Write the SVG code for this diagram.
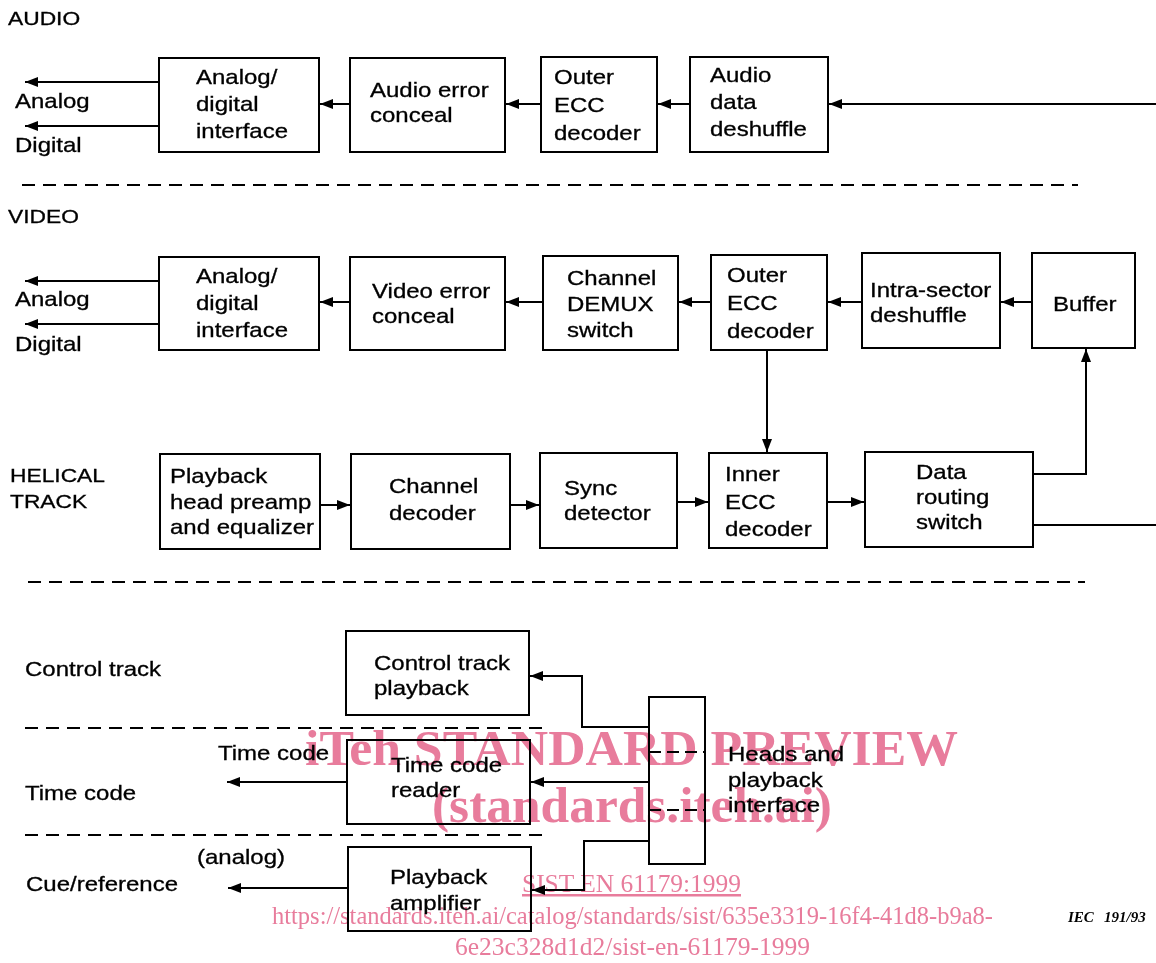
<svg xmlns="http://www.w3.org/2000/svg" width="1156" height="963" viewBox="0 0 1156 963">
<defs>
<marker id="ah" markerUnits="userSpaceOnUse" markerWidth="14" markerHeight="11" refX="13" refY="5" orient="auto">
<path d="M0,0 L13,5 L0,10 z" fill="#000"/>
</marker>
</defs>
<style>
.box{fill:#fff;stroke:#000;stroke-width:2}
.t{font-family:"Liberation Sans",Arial,Helvetica,sans-serif;font-size:20px;fill:#000;stroke:#000;stroke-width:0.3}
.h{font-size:19px}
.ln{fill:none;stroke:#000;stroke-width:2}
.arr{marker-end:url(#ah)}
.dash{fill:none;stroke:#000;stroke-width:2;stroke-dasharray:13 8}
.wm{font-family:"Liberation Serif","Times New Roman",serif;fill:#e87c9c;mix-blend-mode:multiply}
.wb{font-weight:bold;font-size:51px}
.ws{font-size:25px}
</style>
<rect width="1156" height="963" fill="#fff"/>

<g id="labels">
<text class="t h" transform="translate(8,25) scale(1.2,1)">AUDIO</text>
<text class="t" transform="translate(15,108) scale(1.2,1)">Analog</text>
<text class="t" transform="translate(15,152) scale(1.2,1)">Digital</text>
<text class="t h" transform="translate(8,223) scale(1.2,1)">VIDEO</text>
<text class="t" transform="translate(15,306) scale(1.2,1)">Analog</text>
<text class="t" transform="translate(15,351) scale(1.2,1)">Digital</text>
<text class="t h" transform="translate(10,482) scale(1.2,1)"><tspan x="0" y="0">HELICAL</tspan><tspan x="0" y="26">TRACK</tspan></text>
<text class="t" transform="translate(25,676) scale(1.2,1)">Control track</text>
<text class="t" transform="translate(218,760) scale(1.2,1)">Time code</text>
<text class="t" transform="translate(25,800) scale(1.2,1)">Time code</text>
<text class="t" transform="translate(197,864) scale(1.2,1)">(analog)</text>
<text class="t" transform="translate(26,891) scale(1.2,1)">Cue/reference</text>
<text font-family="Liberation Serif,serif" font-style="italic" font-weight="bold" font-size="15" x="1068" y="922">IEC</text>
<text font-family="Liberation Serif,serif" font-style="italic" font-weight="bold" font-size="15" x="1104" y="922">191/93</text>
</g>

<g id="separators">
<path class="dash" d="M22,185 H1078"/>
<path class="dash" d="M28,582 H1085"/>
<path class="dash" d="M25,728 H550"/>
<path class="dash" d="M25,835 H550"/>
</g>

<g id="connectors">
<path class="ln arr" d="M1156,104 H829"/>
<path class="ln arr" d="M690,104 H658"/>
<path class="ln arr" d="M541,104 H506"/>
<path class="ln arr" d="M350,104 H320"/>
<path class="ln arr" d="M159,82 H25"/>
<path class="ln arr" d="M159,126 H25"/>
<path class="ln arr" d="M1032,302 H1001"/>
<path class="ln arr" d="M862,302 H828"/>
<path class="ln arr" d="M711,302 H679"/>
<path class="ln arr" d="M543,302 H506"/>
<path class="ln arr" d="M350,302 H320"/>
<path class="ln arr" d="M159,281 H25"/>
<path class="ln arr" d="M159,324 H25"/>
<path class="ln arr" d="M767,350 V452"/>
<path class="ln arr" d="M320,505 H350"/>
<path class="ln arr" d="M510,505 H539"/>
<path class="ln arr" d="M677,502 H708"/>
<path class="ln arr" d="M827,502 H864"/>
<path class="ln arr" d="M1033,474 H1086 V349"/>
<path class="ln" d="M1033,525 H1156"/>
<path class="ln arr" d="M649,727 H582 V676 H530"/>
<path class="ln arr" d="M649,782 H531"/>
<path class="ln arr" d="M649,841 H584 V890 H532"/>
<path class="ln arr" d="M347,782 H227"/>
<path class="ln arr" d="M348,888 H228"/>
</g>

<g id="audio-ad">
<rect class="box" x="159" y="58" width="160" height="94"/>
<text class="t" transform="translate(196,84) scale(1.2,1)"><tspan x="0" y="0">Analog/</tspan><tspan x="0" y="27">digital</tspan><tspan x="0" y="54">interface</tspan></text>
</g>
<g id="audio-conceal">
<rect class="box" x="350" y="58" width="155" height="94"/>
<text class="t" transform="translate(370,97) scale(1.2,1)"><tspan x="0" y="0">Audio error</tspan><tspan x="0" y="25">conceal</tspan></text>
</g>
<g id="audio-outer-ecc">
<rect class="box" x="541" y="57" width="116" height="95"/>
<text class="t" transform="translate(554,84) scale(1.2,1)"><tspan x="0" y="0">Outer</tspan><tspan x="0" y="28">ECC</tspan><tspan x="0" y="56">decoder</tspan></text>
</g>
<g id="audio-deshuffle">
<rect class="box" x="690" y="57" width="138" height="95"/>
<text class="t" transform="translate(710,82) scale(1.2,1)"><tspan x="0" y="0">Audio</tspan><tspan x="0" y="27">data</tspan><tspan x="0" y="54">deshuffle</tspan></text>
</g>

<g id="video-ad">
<rect class="box" x="159" y="257" width="160" height="93"/>
<text class="t" transform="translate(196,283) scale(1.2,1)"><tspan x="0" y="0">Analog/</tspan><tspan x="0" y="27">digital</tspan><tspan x="0" y="54">interface</tspan></text>
</g>
<g id="video-conceal">
<rect class="box" x="350" y="257" width="155" height="93"/>
<text class="t" transform="translate(372,298) scale(1.2,1)"><tspan x="0" y="0">Video error</tspan><tspan x="0" y="25">conceal</tspan></text>
</g>
<g id="video-demux">
<rect class="box" x="543" y="256" width="135" height="94"/>
<text class="t" transform="translate(567,285) scale(1.2,1)"><tspan x="0" y="0">Channel</tspan><tspan x="0" y="26">DEMUX</tspan><tspan x="0" y="52">switch</tspan></text>
</g>
<g id="video-outer-ecc">
<rect class="box" x="711" y="255" width="116" height="95"/>
<text class="t" transform="translate(727,282) scale(1.2,1)"><tspan x="0" y="0">Outer</tspan><tspan x="0" y="28">ECC</tspan><tspan x="0" y="56">decoder</tspan></text>
</g>
<g id="video-intra">
<rect class="box" x="862" y="253" width="138" height="95"/>
<text class="t" transform="translate(870,297) scale(1.2,1)"><tspan x="0" y="0">Intra-sector</tspan><tspan x="0" y="25">deshuffle</tspan></text>
</g>
<g id="video-buffer">
<rect class="box" x="1032" y="253" width="103" height="95"/>
<text class="t" transform="translate(1053,311) scale(1.2,1)">Buffer</text>
</g>

<g id="hel-preamp">
<rect class="box" x="160" y="454" width="160" height="95"/>
<text class="t" transform="translate(170,483) scale(1.2,1)"><tspan x="0" y="0">Playback</tspan><tspan x="0" y="26">head preamp</tspan><tspan x="0" y="51">and equalizer</tspan></text>
</g>
<g id="hel-chdec">
<rect class="box" x="351" y="454" width="159" height="95"/>
<text class="t" transform="translate(389,493) scale(1.2,1)"><tspan x="0" y="0">Channel</tspan><tspan x="0" y="27">decoder</tspan></text>
</g>
<g id="hel-sync">
<rect class="box" x="540" y="453" width="137" height="95"/>
<text class="t" transform="translate(564,495) scale(1.2,1)"><tspan x="0" y="0">Sync</tspan><tspan x="0" y="25">detector</tspan></text>
</g>
<g id="hel-inner">
<rect class="box" x="709" y="453" width="118" height="95"/>
<text class="t" transform="translate(725,481) scale(1.2,1)"><tspan x="0" y="0">Inner</tspan><tspan x="0" y="28">ECC</tspan><tspan x="0" y="55">decoder</tspan></text>
</g>
<g id="hel-routing">
<rect class="box" x="865" y="452" width="168" height="95"/>
<text class="t" transform="translate(916,479) scale(1.2,1)"><tspan x="0" y="0">Data</tspan><tspan x="0" y="25">routing</tspan><tspan x="0" y="50">switch</tspan></text>
</g>

<g id="ctl-playback">
<rect class="box" x="346" y="631" width="183" height="84"/>
<text class="t" transform="translate(374,670) scale(1.2,1)"><tspan x="0" y="0">Control track</tspan><tspan x="0" y="25">playback</tspan></text>
</g>
<g id="tc-reader">
<rect class="box" x="347" y="740" width="183" height="84"/>
<text class="t" transform="translate(391,772) scale(1.2,1)"><tspan x="0" y="0">Time code</tspan><tspan x="0" y="25">reader</tspan></text>
</g>
<g id="pb-amp">
<rect class="box" x="348" y="847" width="183" height="84"/>
<text class="t" transform="translate(390,884) scale(1.2,1)"><tspan x="0" y="0">Playback</tspan><tspan x="0" y="26">amplifier</tspan></text>
</g>
<g id="heads">
<rect class="box" x="649" y="697" width="56" height="167"/>
<path d="M649,752 H705 M649,810 H705" fill="none" stroke="#000" stroke-width="2" stroke-dasharray="12 6"/>
<text class="t" transform="translate(728,761) scale(1.2,1)"><tspan x="0" y="0">Heads and</tspan><tspan x="0" y="26">playback</tspan><tspan x="0" y="51">interface</tspan></text>
</g>

<g id="watermark">
<text class="wm wb" x="305" y="765" textLength="653" lengthAdjust="spacingAndGlyphs">iTeh STANDARD PREVIEW</text>
<text class="wm wb" x="432" y="822" textLength="400" lengthAdjust="spacingAndGlyphs">(standards.iteh.ai)</text>
<text class="wm ws" x="522" y="892" textLength="219" lengthAdjust="spacingAndGlyphs" text-decoration="underline">SIST EN 61179:1999</text>
<text class="wm ws" x="272" y="924" textLength="721" lengthAdjust="spacingAndGlyphs">https://standards.iteh.ai/catalog/standards/sist/635e3319-16f4-41d8-b9a8-</text>
<text class="wm ws" x="455" y="955" textLength="355" lengthAdjust="spacingAndGlyphs">6e23c328d1d2/sist-en-61179-1999</text>
</g>
</svg>
